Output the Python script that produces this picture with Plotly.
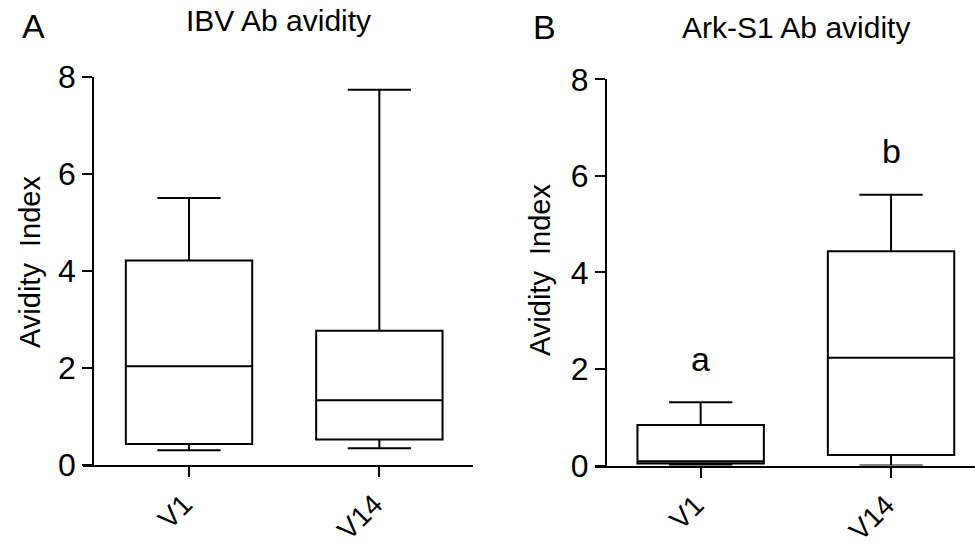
import plotly.graph_objects as go

# Box summary statistics (Avidity Index)
categories = ["V1", "V14"]

ibv_lower = [0.30, 0.34]
ibv_q1 = [0.43, 0.52]
ibv_median = [2.03, 1.33]
ibv_q3 = [4.21, 2.76]
ibv_upper = [5.50, 7.73]

ark_lower = [0.0, 0.0]
ark_q1 = [0.04, 0.22]
ark_median = [0.09, 2.23]
ark_q3 = [0.84, 4.44]
ark_upper = [1.31, 5.61]

# significance letters and the height they sit at
sig_letters = ["a", "b"]
sig_heights = [2.21, 6.52]

y_ticks = [0, 2, 4, 6, 8]

W, H = 975, 546
FONT = "Liberation Sans, Arial, sans-serif"


def px_x(p):
    return p / W


def px_y(p):
    return 1 - p / H


fig = go.Figure()

box_style = dict(
    width=0.664,
    whiskerwidth=0.5,
    line=dict(color="black", width=2),
    fillcolor="white",
    boxpoints=False,
    showlegend=False,
    hoverinfo="skip",
)

fig.add_trace(go.Box(
    x=categories, q1=ibv_q1, median=ibv_median, q3=ibv_q3,
    lowerfence=ibv_lower, upperfence=ibv_upper,
    xaxis="x", yaxis="y", **box_style))

fig.add_trace(go.Box(
    x=categories, q1=ark_q1, median=ark_median, q3=ark_q3,
    lowerfence=ark_lower, upperfence=ark_upper,
    xaxis="x2", yaxis="y2", **box_style))

x_common = dict(
    type="category",
    categoryorder="array",
    categoryarray=categories,
    showline=True, linecolor="black", linewidth=2,
    ticks="outside", ticklen=10, tickwidth=2, tickcolor="black",
    tickangle=-45,
    ticklabelshift=-5,
    tickfont=dict(family=FONT, size=28, color="black"),
    showgrid=False, zeroline=False, automargin=False,
)
y_common = dict(
    range=[0, 8],
    tickvals=y_ticks,
    showline=True, linecolor="black", linewidth=2,
    ticks="outside", ticklen=10, tickwidth=2, tickcolor="black",
    tickfont=dict(family=FONT, size=32, color="black"),
    showgrid=False, zeroline=False, automargin=False,
)

fig.update_layout(
    template="none",
    width=W, height=H,
    margin=dict(l=0, r=0, t=0, b=0, pad=0, autoexpand=False),
    paper_bgcolor="white",
    plot_bgcolor="white",
    font=dict(family=FONT, color="black"),
    xaxis=dict(domain=[px_x(83), px_x(473)], range=[-0.557, 1.492],
               anchor="y", **x_common),
    yaxis=dict(domain=[px_y(464.8), px_y(76.6)], anchor="free",
               position=px_x(93.3), **y_common),
    xaxis2=dict(domain=[px_x(595), 1.0], range=[-0.555, 1.441],
                anchor="y2", **x_common),
    yaxis2=dict(domain=[px_y(465.5), px_y(79.4)], anchor="free",
                position=px_x(606), **y_common),
)

annotations = []
# panel titles
for txt, cx, cy in [("IBV Ab avidity", 278.5, 21), ("Ark-S1 Ab avidity", 795.5, 27.5)]:
    annotations.append(dict(text=txt, x=px_x(cx), y=px_y(cy), xref="paper", yref="paper",
                            xanchor="center", yanchor="middle", showarrow=False,
                            font=dict(family=FONT, size=30, color="black")))
# panel letters
for txt, cx, cy in [("A", 33.5, 26), ("B", 544, 27)]:
    annotations.append(dict(text=txt, x=px_x(cx), y=px_y(cy), xref="paper", yref="paper",
                            xanchor="center", yanchor="middle", showarrow=False,
                            font=dict(family=FONT, size=34, color="black")))
# y-axis titles
for cx, cy in [(30, 262), (540, 270)]:
    annotations.append(dict(text="Avidity  Index", x=px_x(cx), y=px_y(cy), xref="paper", yref="paper",
                            xanchor="center", yanchor="middle", showarrow=False, textangle=-90,
                            font=dict(family=FONT, size=29, color="black")))
# significance letters
for cat, letter, h in zip(categories, sig_letters, sig_heights):
    annotations.append(dict(text=letter, x=cat, y=h, xref="x2", yref="y2",
                            xanchor="center", yanchor="middle", showarrow=False,
                            font=dict(family=FONT, size=34, color="black")))

fig.update_layout(annotations=annotations)

fig.write_html("out.html")
